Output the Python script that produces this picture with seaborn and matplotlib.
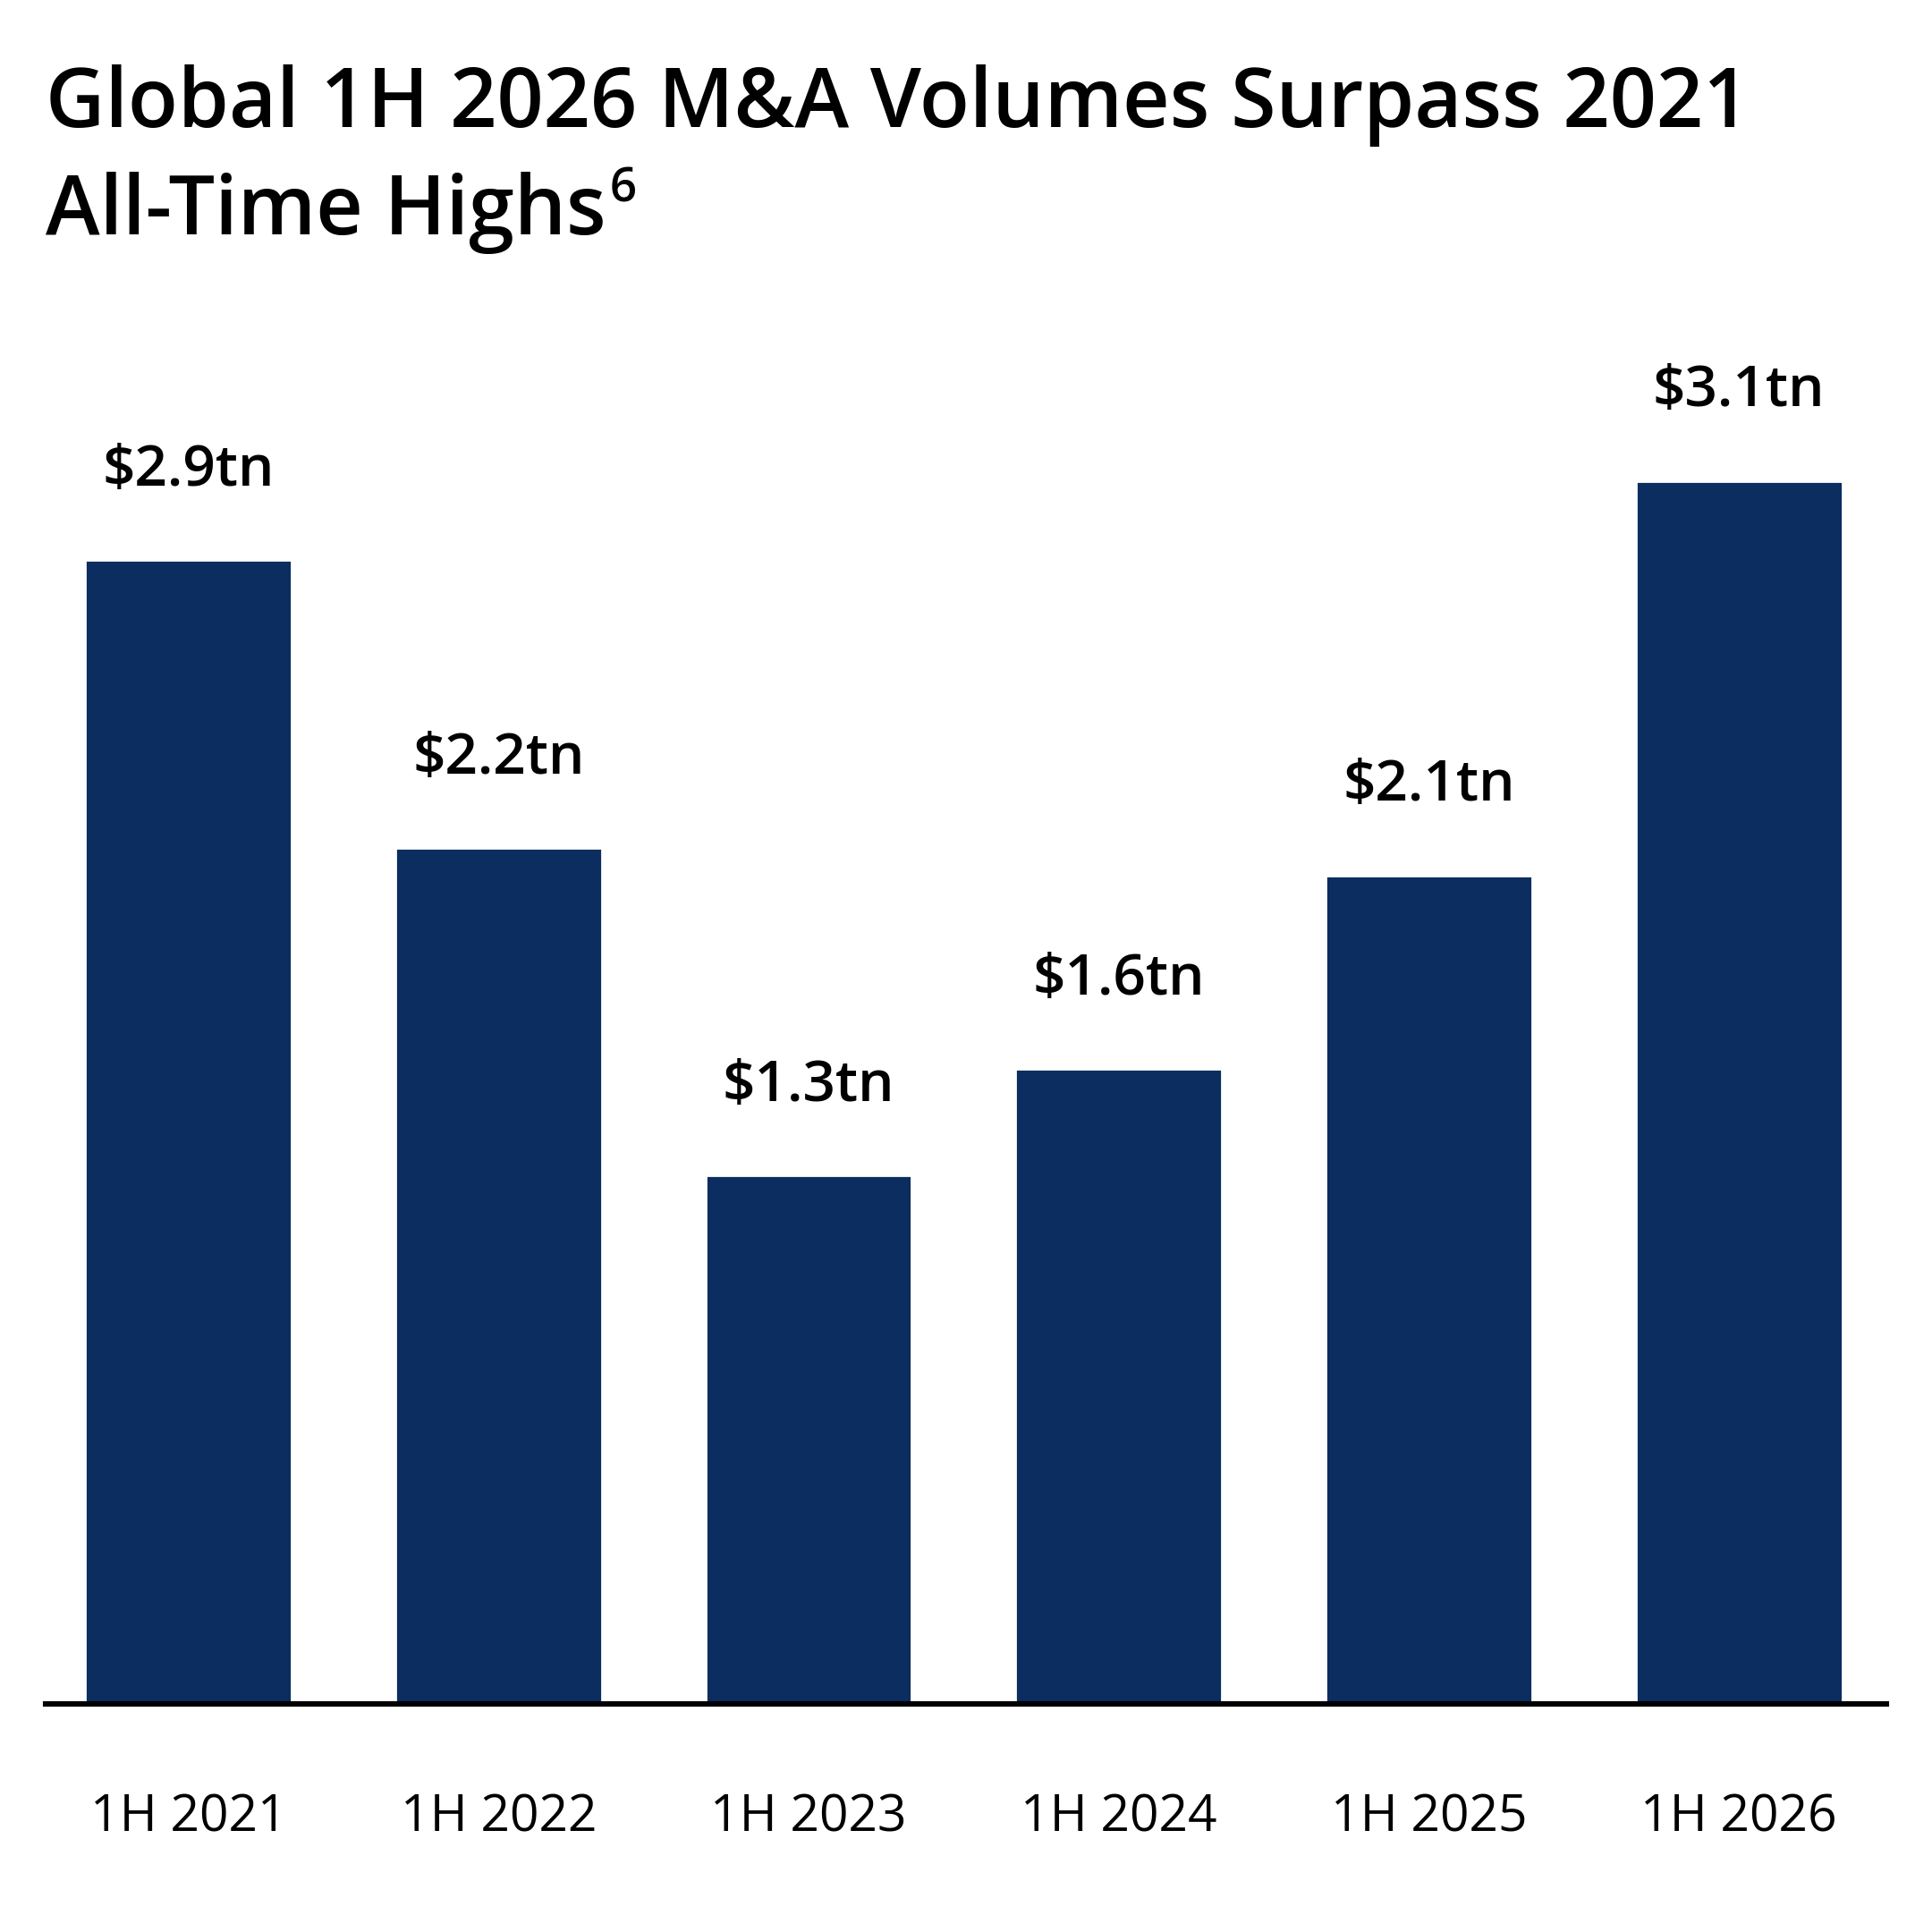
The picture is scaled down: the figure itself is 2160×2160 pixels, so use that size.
import matplotlib
matplotlib.use("Agg")
import matplotlib.pyplot as plt
import seaborn as sns

# Données (volumes M&A mondiaux, en milliers de milliards $)
periodes = ["1H 2021", "1H 2022", "1H 2023", "1H 2024", "1H 2025", "1H 2026"]
volumes = [2.90, 2.17, 1.34, 1.61, 2.10, 3.10]
etiquettes = ["$2.9tn", "$2.2tn", "$1.3tn", "$1.6tn", "$2.1tn", "$3.1tn"]

titre_l1 = "Global 1H 2026 M&A Volumes Surpass 2021"
titre_l2 = "All-Time Highs"
note = "6"

bleu = "#0b2d5f"

sns.set_style("white")
plt.rcParams["font.family"] = ["Open Sans", "DejaVu Sans"]

fig = plt.figure(figsize=(10.8, 10.8), dpi=200)
ax = fig.add_axes([0.0236, 0.1181, 0.9528, 0.7146])

sns.barplot(x=periodes, y=volumes, color=bleu, width=0.665, saturation=1, ax=ax)

ax.set_xlim(-0.46, 5.475)
ax.set_ylim(0, 3.5)
ax.set_yticks([])
ax.set_ylabel("")
sns.despine(ax=ax, left=True)
ax.spines["bottom"].set_linewidth(2.2)
ax.spines["bottom"].set_color("black")
ax.tick_params(axis="x", length=0, pad=36, labelsize=20.5, colors="black")

# Étiquettes de valeur au-dessus des barres
for i, (v, lab) in enumerate(zip(volumes, etiquettes)):
    ax.annotate(lab.replace("$", r"\$"), xy=(i, v), xytext=(0, 30),
                textcoords="offset points", ha="center", va="baseline",
                fontsize=23, fontweight="semibold", color="black")

# Titre sur deux lignes avec renvoi en exposant
fig.text(0.0236, 1 - 142 / 2160, titre_l1, fontsize=33, fontweight="semibold",
         color="black", va="baseline", ha="left")
t2 = fig.text(0.0236, 1 - 262 / 2160, titre_l2, fontsize=33, fontweight="semibold",
              color="black", va="baseline", ha="left")
fig.canvas.draw()
bb = t2.get_window_extent()
fig.text(bb.x1 / fig.bbox.width + 0.002, 1 - 225 / 2160, note, fontsize=19,
         fontweight="semibold", color="black", va="baseline", ha="left")

fig.savefig("out.png", dpi=200, facecolor="white")
